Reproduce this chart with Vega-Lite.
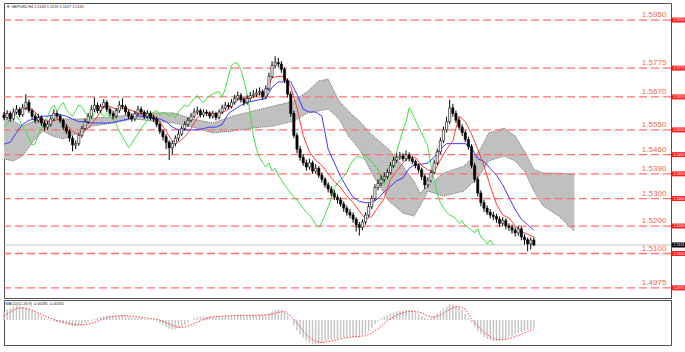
{
"$schema":"https://vega.github.io/schema/vega-lite/v6.json",
"padding":{"left":1,"top":2,"right":0,"bottom":0},
"background":"white",
"spacing":0,
"config":{"view":{"stroke":"#505050","strokeWidth":1},"scale":{"continuousPadding":0},"font":"Liberation Sans","axis":{"labelFont":"Liberation Sans","labelColor":"#333","domain":false,"tickColor":"#666","tickSize":2,"labelFontSize":3.6,"labelPadding":1,"gridColor":"#c4c4c4","gridDash":[1,2],"gridWidth":1}},
"datasets":{
"candles":[
{"i":0,"o":1.5605,"h":1.5615,"l":1.5585,"c":1.5595},{"i":2,"o":1.5595,"h":1.5622,"l":1.5588,"c":1.5610},{"i":4,"o":1.5610,"h":1.5618,"l":1.5580,"c":1.5590},{"i":6,"o":1.5590,"h":1.5628,"l":1.5584,"c":1.5615},{"i":8,"o":1.5615,"h":1.5640,"l":1.5606,"c":1.5625},{"i":10,"o":1.5625,"h":1.5632,"l":1.5596,"c":1.5605},{"i":12,"o":1.5605,"h":1.5645,"l":1.5598,"c":1.5630},{"i":14,"o":1.5630,"h":1.5680,"l":1.5622,"c":1.5650},{"i":16,"o":1.5650,"h":1.5660,"l":1.5612,"c":1.5620},{"i":18,"o":1.5620,"h":1.5628,"l":1.5590,"c":1.5600},
{"i":20,"o":1.5600,"h":1.5610,"l":1.5574,"c":1.5585},{"i":22,"o":1.5585,"h":1.5608,"l":1.5576,"c":1.5595},{"i":24,"o":1.5595,"h":1.5602,"l":1.5565,"c":1.5575},{"i":26,"o":1.5575,"h":1.5584,"l":1.5548,"c":1.5560},{"i":28,"o":1.5560,"h":1.5582,"l":1.5550,"c":1.5570},{"i":30,"o":1.5570,"h":1.5600,"l":1.5562,"c":1.5590},{"i":32,"o":1.5590,"h":1.5625,"l":1.5582,"c":1.5610},{"i":34,"o":1.5610,"h":1.5620,"l":1.5590,"c":1.5600},{"i":36,"o":1.5600,"h":1.5608,"l":1.5575,"c":1.5585},{"i":38,"o":1.5585,"h":1.5592,"l":1.5550,"c":1.5560},
{"i":40,"o":1.5560,"h":1.5570,"l":1.5535,"c":1.5545},{"i":42,"o":1.5545,"h":1.5552,"l":1.5508,"c":1.5520},{"i":44,"o":1.5520,"h":1.5528,"l":1.5472,"c":1.5495},{"i":46,"o":1.5495,"h":1.5512,"l":1.5480,"c":1.5500},{"i":48,"o":1.5500,"h":1.5540,"l":1.5492,"c":1.5530},{"i":50,"o":1.5530,"h":1.5565,"l":1.5522,"c":1.5555},{"i":52,"o":1.5555,"h":1.5590,"l":1.5548,"c":1.5580},{"i":54,"o":1.5580,"h":1.5612,"l":1.5572,"c":1.5600},{"i":56,"o":1.5600,"h":1.5640,"l":1.5592,"c":1.5625},{"i":58,"o":1.5625,"h":1.5668,"l":1.5615,"c":1.5640},
{"i":60,"o":1.5640,"h":1.5650,"l":1.5610,"c":1.5620},{"i":62,"o":1.5620,"h":1.5645,"l":1.5612,"c":1.5635},{"i":64,"o":1.5635,"h":1.5662,"l":1.5628,"c":1.5650},{"i":66,"o":1.5650,"h":1.5658,"l":1.5615,"c":1.5625},{"i":68,"o":1.5625,"h":1.5632,"l":1.5600,"c":1.5610},{"i":70,"o":1.5610,"h":1.5620,"l":1.5588,"c":1.5600},{"i":72,"o":1.5600,"h":1.5630,"l":1.5592,"c":1.5620},{"i":74,"o":1.5620,"h":1.5655,"l":1.5612,"c":1.5640},{"i":76,"o":1.5640,"h":1.5665,"l":1.5625,"c":1.5635},{"i":78,"o":1.5635,"h":1.5642,"l":1.5605,"c":1.5615},
{"i":80,"o":1.5615,"h":1.5624,"l":1.5590,"c":1.5600},{"i":82,"o":1.5600,"h":1.5610,"l":1.5580,"c":1.5590},{"i":84,"o":1.5590,"h":1.5620,"l":1.5582,"c":1.5610},{"i":86,"o":1.5610,"h":1.5638,"l":1.5602,"c":1.5625},{"i":88,"o":1.5625,"h":1.5635,"l":1.5605,"c":1.5615},{"i":90,"o":1.5615,"h":1.5622,"l":1.5590,"c":1.5600},{"i":92,"o":1.5600,"h":1.5622,"l":1.5592,"c":1.5610},{"i":94,"o":1.5610,"h":1.5618,"l":1.5585,"c":1.5595},{"i":96,"o":1.5595,"h":1.5605,"l":1.5578,"c":1.5590},{"i":98,"o":1.5590,"h":1.5598,"l":1.5560,"c":1.5570},
{"i":100,"o":1.5570,"h":1.5578,"l":1.5535,"c":1.5545},{"i":102,"o":1.5545,"h":1.5552,"l":1.5512,"c":1.5525},{"i":104,"o":1.5525,"h":1.5535,"l":1.5480,"c":1.5505},{"i":106,"o":1.5505,"h":1.5512,"l":1.5440,"c":1.5485},{"i":108,"o":1.5485,"h":1.5510,"l":1.5462,"c":1.5500},{"i":110,"o":1.5500,"h":1.5530,"l":1.5490,"c":1.5520},{"i":112,"o":1.5520,"h":1.5548,"l":1.5510,"c":1.5535},{"i":114,"o":1.5535,"h":1.5565,"l":1.5528,"c":1.5555},{"i":116,"o":1.5555,"h":1.5582,"l":1.5548,"c":1.5570},{"i":118,"o":1.5570,"h":1.5595,"l":1.5562,"c":1.5585},
{"i":120,"o":1.5585,"h":1.5612,"l":1.5578,"c":1.5600},{"i":122,"o":1.5600,"h":1.5628,"l":1.5592,"c":1.5615},{"i":124,"o":1.5615,"h":1.5635,"l":1.5605,"c":1.5620},{"i":126,"o":1.5620,"h":1.5628,"l":1.5595,"c":1.5605},{"i":128,"o":1.5605,"h":1.5625,"l":1.5596,"c":1.5615},{"i":130,"o":1.5615,"h":1.5624,"l":1.5600,"c":1.5610},{"i":132,"o":1.5610,"h":1.5618,"l":1.5590,"c":1.5600},{"i":134,"o":1.5600,"h":1.5620,"l":1.5592,"c":1.5610},{"i":136,"o":1.5610,"h":1.5616,"l":1.5585,"c":1.5595},{"i":138,"o":1.5595,"h":1.5625,"l":1.5588,"c":1.5615},
{"i":140,"o":1.5615,"h":1.5642,"l":1.5608,"c":1.5630},{"i":142,"o":1.5630,"h":1.5652,"l":1.5622,"c":1.5640},{"i":144,"o":1.5640,"h":1.5650,"l":1.5625,"c":1.5635},{"i":146,"o":1.5635,"h":1.5662,"l":1.5628,"c":1.5650},{"i":148,"o":1.5650,"h":1.5678,"l":1.5642,"c":1.5665},{"i":150,"o":1.5665,"h":1.5690,"l":1.5658,"c":1.5675},{"i":152,"o":1.5675,"h":1.5684,"l":1.5650,"c":1.5660},{"i":154,"o":1.5660,"h":1.5668,"l":1.5638,"c":1.5650},{"i":156,"o":1.5650,"h":1.5676,"l":1.5642,"c":1.5665},{"i":158,"o":1.5665,"h":1.5688,"l":1.5656,"c":1.5675},
{"i":160,"o":1.5675,"h":1.5695,"l":1.5666,"c":1.5680},{"i":162,"o":1.5680,"h":1.5700,"l":1.5670,"c":1.5685},{"i":164,"o":1.5685,"h":1.5705,"l":1.5675,"c":1.5690},{"i":166,"o":1.5690,"h":1.5698,"l":1.5660,"c":1.5670},{"i":168,"o":1.5670,"h":1.5712,"l":1.5662,"c":1.5700},{"i":170,"o":1.5700,"h":1.5758,"l":1.5692,"c":1.5745},{"i":172,"o":1.5745,"h":1.5800,"l":1.5738,"c":1.5785},{"i":174,"o":1.5785,"h":1.5818,"l":1.5775,"c":1.5795},{"i":176,"o":1.5795,"h":1.5812,"l":1.5778,"c":1.5790},{"i":178,"o":1.5790,"h":1.5800,"l":1.5758,"c":1.5770},
{"i":180,"o":1.5770,"h":1.5778,"l":1.5720,"c":1.5730},{"i":182,"o":1.5730,"h":1.5738,"l":1.5668,"c":1.5680},{"i":184,"o":1.5680,"h":1.5690,"l":1.5598,"c":1.5610},{"i":186,"o":1.5610,"h":1.5620,"l":1.5520,"c":1.5530},{"i":188,"o":1.5530,"h":1.5540,"l":1.5465,"c":1.5480},{"i":190,"o":1.5480,"h":1.5492,"l":1.5438,"c":1.5450},{"i":192,"o":1.5450,"h":1.5462,"l":1.5420,"c":1.5430},{"i":194,"o":1.5430,"h":1.5442,"l":1.5402,"c":1.5415},{"i":196,"o":1.5415,"h":1.5445,"l":1.5405,"c":1.5430},{"i":198,"o":1.5430,"h":1.5438,"l":1.5390,"c":1.5400},
{"i":200,"o":1.5400,"h":1.5425,"l":1.5392,"c":1.5410},{"i":202,"o":1.5410,"h":1.5418,"l":1.5375,"c":1.5385},{"i":204,"o":1.5385,"h":1.5395,"l":1.5358,"c":1.5370},{"i":206,"o":1.5370,"h":1.5378,"l":1.5340,"c":1.5350},{"i":208,"o":1.5350,"h":1.5360,"l":1.5322,"c":1.5335},{"i":210,"o":1.5335,"h":1.5345,"l":1.5308,"c":1.5320},{"i":212,"o":1.5320,"h":1.5330,"l":1.5295,"c":1.5305},{"i":214,"o":1.5305,"h":1.5315,"l":1.5282,"c":1.5295},{"i":216,"o":1.5295,"h":1.5305,"l":1.5270,"c":1.5280},{"i":218,"o":1.5280,"h":1.5290,"l":1.5252,"c":1.5265},
{"i":220,"o":1.5265,"h":1.5275,"l":1.5238,"c":1.5250},{"i":222,"o":1.5250,"h":1.5262,"l":1.5228,"c":1.5240},{"i":224,"o":1.5240,"h":1.5250,"l":1.5212,"c":1.5225},{"i":226,"o":1.5225,"h":1.5232,"l":1.5180,"c":1.5205},{"i":228,"o":1.5205,"h":1.5215,"l":1.5165,"c":1.5195},{"i":230,"o":1.5195,"h":1.5225,"l":1.5185,"c":1.5215},{"i":232,"o":1.5215,"h":1.5250,"l":1.5205,"c":1.5240},{"i":234,"o":1.5240,"h":1.5282,"l":1.5232,"c":1.5270},{"i":236,"o":1.5270,"h":1.5312,"l":1.5262,"c":1.5300},{"i":238,"o":1.5300,"h":1.5352,"l":1.5292,"c":1.5340},
{"i":240,"o":1.5340,"h":1.5370,"l":1.5330,"c":1.5355},{"i":242,"o":1.5355,"h":1.5385,"l":1.5345,"c":1.5370},{"i":244,"o":1.5370,"h":1.5395,"l":1.5360,"c":1.5380},{"i":246,"o":1.5380,"h":1.5408,"l":1.5372,"c":1.5395},{"i":248,"o":1.5395,"h":1.5432,"l":1.5388,"c":1.5420},{"i":250,"o":1.5420,"h":1.5452,"l":1.5412,"c":1.5440},{"i":252,"o":1.5440,"h":1.5465,"l":1.5430,"c":1.5450},{"i":254,"o":1.5450,"h":1.5470,"l":1.5440,"c":1.5455},{"i":256,"o":1.5455,"h":1.5465,"l":1.5435,"c":1.5445},{"i":258,"o":1.5445,"h":1.5475,"l":1.5436,"c":1.5460},
{"i":260,"o":1.5460,"h":1.5468,"l":1.5435,"c":1.5445},{"i":262,"o":1.5445,"h":1.5455,"l":1.5425,"c":1.5435},{"i":264,"o":1.5435,"h":1.5442,"l":1.5410,"c":1.5420},{"i":266,"o":1.5420,"h":1.5428,"l":1.5395,"c":1.5405},{"i":268,"o":1.5405,"h":1.5412,"l":1.5368,"c":1.5380},{"i":270,"o":1.5380,"h":1.5388,"l":1.5335,"c":1.5350},{"i":272,"o":1.5350,"h":1.5378,"l":1.5340,"c":1.5365},{"i":274,"o":1.5365,"h":1.5405,"l":1.5358,"c":1.5395},{"i":276,"o":1.5395,"h":1.5442,"l":1.5388,"c":1.5430},{"i":278,"o":1.5430,"h":1.5482,"l":1.5422,"c":1.5470},
{"i":280,"o":1.5470,"h":1.5522,"l":1.5462,"c":1.5510},{"i":282,"o":1.5510,"h":1.5562,"l":1.5502,"c":1.5550},{"i":284,"o":1.5550,"h":1.5598,"l":1.5540,"c":1.5580},{"i":286,"o":1.5580,"h":1.5659,"l":1.5572,"c":1.5630},{"i":288,"o":1.5630,"h":1.5645,"l":1.5598,"c":1.5610},{"i":290,"o":1.5610,"h":1.5620,"l":1.5575,"c":1.5585},{"i":292,"o":1.5585,"h":1.5595,"l":1.5550,"c":1.5560},{"i":294,"o":1.5560,"h":1.5570,"l":1.5528,"c":1.5540},{"i":296,"o":1.5540,"h":1.5548,"l":1.5505,"c":1.5515},{"i":298,"o":1.5515,"h":1.5525,"l":1.5478,"c":1.5490},
{"i":300,"o":1.5490,"h":1.5498,"l":1.5410,"c":1.5420},{"i":302,"o":1.5420,"h":1.5430,"l":1.5358,"c":1.5370},{"i":304,"o":1.5370,"h":1.5380,"l":1.5308,"c":1.5320},{"i":306,"o":1.5320,"h":1.5330,"l":1.5272,"c":1.5285},{"i":308,"o":1.5285,"h":1.5295,"l":1.5252,"c":1.5265},{"i":310,"o":1.5265,"h":1.5275,"l":1.5240,"c":1.5250},{"i":312,"o":1.5250,"h":1.5262,"l":1.5228,"c":1.5240},{"i":314,"o":1.5240,"h":1.5252,"l":1.5222,"c":1.5235},{"i":316,"o":1.5235,"h":1.5245,"l":1.5212,"c":1.5225},{"i":318,"o":1.5225,"h":1.5235,"l":1.5198,"c":1.5210},
{"i":320,"o":1.5210,"h":1.5232,"l":1.5200,"c":1.5220},{"i":322,"o":1.5220,"h":1.5228,"l":1.5188,"c":1.5200},{"i":324,"o":1.5200,"h":1.5210,"l":1.5182,"c":1.5195},{"i":326,"o":1.5195,"h":1.5205,"l":1.5172,"c":1.5185},{"i":328,"o":1.5185,"h":1.5195,"l":1.5162,"c":1.5175},{"i":330,"o":1.5175,"h":1.5202,"l":1.5165,"c":1.5190},{"i":332,"o":1.5190,"h":1.5198,"l":1.5148,"c":1.5160},{"i":334,"o":1.5160,"h":1.5170,"l":1.5132,"c":1.5150},{"i":336,"o":1.5150,"h":1.5158,"l":1.5108,"c":1.5135},{"i":338,"o":1.5135,"h":1.5158,"l":1.5115,"c":1.5149},
{"i":340,"o":1.5149,"h":1.5159,"l":1.5127,"c":1.5131}],
"chikou":[
{"i":0,"g":1.5560},{"i":2,"g":1.5570},{"i":4,"g":1.5590},{"i":6,"g":1.5610},{"i":8,"g":1.5600},{"i":10,"g":1.5585},{"i":12,"g":1.5560},{"i":14,"g":1.5545},{"i":16,"g":1.5520},{"i":18,"g":1.5495},{"i":20,"g":1.5500},{"i":22,"g":1.5530},{"i":24,"g":1.5555},{"i":26,"g":1.5580},{"i":28,"g":1.5600},{"i":30,"g":1.5625},{"i":32,"g":1.5640},{"i":34,"g":1.5620},{"i":36,"g":1.5635},{"i":38,"g":1.5650},
{"i":40,"g":1.5625},{"i":42,"g":1.5610},{"i":44,"g":1.5600},{"i":46,"g":1.5620},{"i":48,"g":1.5640},{"i":50,"g":1.5635},{"i":52,"g":1.5615},{"i":54,"g":1.5600},{"i":56,"g":1.5590},{"i":58,"g":1.5610},{"i":60,"g":1.5625},{"i":62,"g":1.5615},{"i":64,"g":1.5600},{"i":66,"g":1.5610},{"i":68,"g":1.5595},{"i":70,"g":1.5590},{"i":72,"g":1.5570},{"i":74,"g":1.5545},{"i":76,"g":1.5525},{"i":78,"g":1.5505},
{"i":80,"g":1.5485},{"i":82,"g":1.5500},{"i":84,"g":1.5520},{"i":86,"g":1.5535},{"i":88,"g":1.5555},{"i":90,"g":1.5570},{"i":92,"g":1.5585},{"i":94,"g":1.5600},{"i":96,"g":1.5615},{"i":98,"g":1.5620},{"i":100,"g":1.5605},{"i":102,"g":1.5615},{"i":104,"g":1.5610},{"i":106,"g":1.5600},{"i":108,"g":1.5610},{"i":110,"g":1.5595},{"i":112,"g":1.5615},{"i":114,"g":1.5630},{"i":116,"g":1.5640},{"i":118,"g":1.5635},
{"i":120,"g":1.5650},{"i":122,"g":1.5665},{"i":124,"g":1.5675},{"i":126,"g":1.5660},{"i":128,"g":1.5650},{"i":130,"g":1.5665},{"i":132,"g":1.5675},{"i":134,"g":1.5680},{"i":136,"g":1.5685},{"i":138,"g":1.5690},{"i":140,"g":1.5670},{"i":142,"g":1.5700},{"i":144,"g":1.5745},{"i":146,"g":1.5785},{"i":148,"g":1.5795},{"i":150,"g":1.5790},{"i":152,"g":1.5770},{"i":154,"g":1.5730},{"i":156,"g":1.5680},{"i":158,"g":1.5610},
{"i":160,"g":1.5530},{"i":162,"g":1.5480},{"i":164,"g":1.5450},{"i":166,"g":1.5430},{"i":168,"g":1.5415},{"i":170,"g":1.5430},{"i":172,"g":1.5400},{"i":174,"g":1.5410},{"i":176,"g":1.5385},{"i":178,"g":1.5370},{"i":180,"g":1.5350},{"i":182,"g":1.5335},{"i":184,"g":1.5320},{"i":186,"g":1.5305},{"i":188,"g":1.5295},{"i":190,"g":1.5280},{"i":192,"g":1.5265},{"i":194,"g":1.5250},{"i":196,"g":1.5240},{"i":198,"g":1.5225},
{"i":200,"g":1.5205},{"i":202,"g":1.5195},{"i":204,"g":1.5215},{"i":206,"g":1.5240},{"i":208,"g":1.5270},{"i":210,"g":1.5300},{"i":212,"g":1.5340},{"i":214,"g":1.5355},{"i":216,"g":1.5370},{"i":218,"g":1.5380},{"i":220,"g":1.5395},{"i":222,"g":1.5420},{"i":224,"g":1.5440},{"i":226,"g":1.5450},{"i":228,"g":1.5455},{"i":230,"g":1.5445},{"i":232,"g":1.5460},{"i":234,"g":1.5445},{"i":236,"g":1.5435},{"i":238,"g":1.5420},
{"i":240,"g":1.5405},{"i":242,"g":1.5380},{"i":244,"g":1.5350},{"i":246,"g":1.5365},{"i":248,"g":1.5395},{"i":250,"g":1.5430},{"i":252,"g":1.5470},{"i":254,"g":1.5510},{"i":256,"g":1.5550},{"i":258,"g":1.5580},{"i":260,"g":1.5630},{"i":262,"g":1.5610},{"i":264,"g":1.5585},{"i":266,"g":1.5560},{"i":268,"g":1.5540},{"i":270,"g":1.5515},{"i":272,"g":1.5490},{"i":274,"g":1.5420},{"i":276,"g":1.5370},{"i":278,"g":1.5320},
{"i":280,"g":1.5285},{"i":282,"g":1.5265},{"i":284,"g":1.5250},{"i":286,"g":1.5240},{"i":288,"g":1.5235},{"i":290,"g":1.5225},{"i":292,"g":1.5210},{"i":294,"g":1.5220},{"i":296,"g":1.5200},{"i":298,"g":1.5195},{"i":300,"g":1.5185},{"i":302,"g":1.5175},{"i":304,"g":1.5190},{"i":306,"g":1.5160},{"i":308,"g":1.5150},{"i":310,"g":1.5135},{"i":312,"g":1.5149},{"i":314,"g":1.5131}],
"tk":[
{"i":0,"t":1.5610,"k":1.5498},{"i":4,"t":1.5605,"k":1.5505},{"i":8,"t":1.5612,"k":1.5540},{"i":12,"t":1.5625,"k":1.5570},{"i":16,"t":1.5630,"k":1.5585},{"i":20,"t":1.5615,"k":1.5590},{"i":24,"t":1.5590,"k":1.5600},{"i":28,"t":1.5580,"k":1.5600},{"i":32,"t":1.5585,"k":1.5605},{"i":36,"t":1.5590,"k":1.5605},
{"i":40,"t":1.5570,"k":1.5600},{"i":44,"t":1.5545,"k":1.5590},{"i":48,"t":1.5530,"k":1.5580},{"i":52,"t":1.5545,"k":1.5580},{"i":56,"t":1.5570,"k":1.5575},{"i":60,"t":1.5600,"k":1.5575},{"i":64,"t":1.5635,"k":1.5575},{"i":68,"t":1.5635,"k":1.5575},{"i":72,"t":1.5625,"k":1.5580},{"i":76,"t":1.5630,"k":1.5585},
{"i":80,"t":1.5625,"k":1.5590},{"i":84,"t":1.5615,"k":1.5600},{"i":88,"t":1.5610,"k":1.5600},{"i":92,"t":1.5610,"k":1.5595},{"i":96,"t":1.5600,"k":1.5590},{"i":100,"t":1.5580,"k":1.5590},{"i":104,"t":1.5545,"k":1.5580},{"i":108,"t":1.5510,"k":1.5560},{"i":112,"t":1.5505,"k":1.5550},{"i":116,"t":1.5525,"k":1.5550},
{"i":120,"t":1.5555,"k":1.5550},{"i":124,"t":1.5595,"k":1.5550},{"i":128,"t":1.5612,"k":1.5555},{"i":132,"t":1.5612,"k":1.5560},{"i":136,"t":1.5608,"k":1.5560},{"i":140,"t":1.5612,"k":1.5570},{"i":144,"t":1.5625,"k":1.5610},{"i":148,"t":1.5650,"k":1.5625},{"i":152,"t":1.5665,"k":1.5640},{"i":156,"t":1.5665,"k":1.5650},
{"i":160,"t":1.5670,"k":1.5655},{"i":164,"t":1.5680,"k":1.5660},{"i":168,"t":1.5685,"k":1.5665},{"i":172,"t":1.5740,"k":1.5705},{"i":176,"t":1.5745,"k":1.5725},{"i":180,"t":1.5745,"k":1.5725},{"i":184,"t":1.5708,"k":1.5725},{"i":188,"t":1.5630,"k":1.5680},{"i":192,"t":1.5530,"k":1.5625},{"i":196,"t":1.5470,"k":1.5615},
{"i":200,"t":1.5440,"k":1.5615},{"i":204,"t":1.5420,"k":1.5600},{"i":208,"t":1.5390,"k":1.5480},{"i":212,"t":1.5362,"k":1.5430},{"i":216,"t":1.5340,"k":1.5380},{"i":220,"t":1.5310,"k":1.5340},{"i":224,"t":1.5285,"k":1.5305},{"i":228,"t":1.5255,"k":1.5290},{"i":232,"t":1.5225,"k":1.5285},{"i":236,"t":1.5235,"k":1.5285},
{"i":240,"t":1.5268,"k":1.5300},{"i":244,"t":1.5300,"k":1.5325},{"i":248,"t":1.5370,"k":1.5345},{"i":252,"t":1.5400,"k":1.5365},{"i":256,"t":1.5430,"k":1.5375},{"i":260,"t":1.5450,"k":1.5410},{"i":264,"t":1.5450,"k":1.5425},{"i":268,"t":1.5420,"k":1.5425},{"i":272,"t":1.5405,"k":1.5430},{"i":276,"t":1.5395,"k":1.5450},
{"i":280,"t":1.5440,"k":1.5480},{"i":284,"t":1.5480,"k":1.5500},{"i":288,"t":1.5510,"k":1.5500},{"i":292,"t":1.5600,"k":1.5500},{"i":296,"t":1.5580,"k":1.5500},{"i":300,"t":1.5535,"k":1.5485},{"i":304,"t":1.5480,"k":1.5445},{"i":308,"t":1.5420,"k":1.5435},{"i":312,"t":1.5345,"k":1.5410},{"i":316,"t":1.5280,"k":1.5385},
{"i":320,"t":1.5240,"k":1.5350},{"i":324,"t":1.5230,"k":1.5305},{"i":328,"t":1.5200,"k":1.5260},{"i":332,"t":1.5180,"k":1.5225},{"i":336,"t":1.5170,"k":1.5205},{"i":340,"t":1.5160,"k":1.5185}],
"cloud":[
{"i":0,"a":1.5590,"b":1.5444},{"i":6,"a":1.5582,"b":1.5437},{"i":12,"a":1.5564,"b":1.5455},{"i":19,"a":1.5582,"b":1.5510},{"i":25,"a":1.5590,"b":1.5546},{"i":31,"a":1.5582,"b":1.5528},{"i":38,"a":1.5590,"b":1.5517},{"i":48,"a":1.5590,"b":1.5539},{"i":57,"a":1.5593,"b":1.5564},{"i":70,"a":1.5597,"b":1.5575},
{"i":83,"a":1.5608,"b":1.5590},{"i":96,"a":1.5612,"b":1.5582},{"i":109,"a":1.5612,"b":1.5575},{"i":121,"a":1.5590,"b":1.5560},{"i":134,"a":1.5575,"b":1.5539},{"i":147,"a":1.5601,"b":1.5546},{"i":160,"a":1.5619,"b":1.5557},{"i":173,"a":1.5637,"b":1.5564},{"i":186,"a":1.5655,"b":1.5582},{"i":195,"a":1.5692,"b":1.5612},
{"i":202,"a":1.5728,"b":1.5619},{"i":208,"a":1.5735,"b":1.5626},{"i":215,"a":1.5655,"b":1.5590},{"i":221,"a":1.5619,"b":1.5528},{"i":228,"a":1.5582,"b":1.5480},{"i":237,"a":1.5528,"b":1.5382},{"i":247,"a":1.5480,"b":1.5291},{"i":256,"a":1.5418,"b":1.5247},{"i":263,"a":1.5364,"b":1.5236},{"i":267,"a":1.5320,"b":1.5273},
{"i":272,"a":1.5346,"b":1.5327},{"i":282,"a":1.5393,"b":1.5309},{"i":295,"a":1.5418,"b":1.5327},{"i":305,"a":1.5473,"b":1.5382},{"i":311,"a":1.5539,"b":1.5437},{"i":321,"a":1.5557,"b":1.5455},{"i":328,"a":1.5528,"b":1.5437},{"i":334,"a":1.5473,"b":1.5400},{"i":340,"a":1.5407,"b":1.5327},{"i":346,"a":1.5393,"b":1.5273},
{"i":356,"a":1.5393,"b":1.5236},{"i":366,"a":1.5389,"b":1.5182}],
"macd":[
{"i":0,"m":0.0030},{"i":2,"m":0.0038},{"i":4,"m":0.0045},{"i":6,"m":0.0050},{"i":8,"m":0.0052},{"i":10,"m":0.0050},{"i":12,"m":0.0047},{"i":14,"m":0.0045},{"i":16,"m":0.0040},{"i":18,"m":0.0033},{"i":20,"m":0.0027},{"i":22,"m":0.0022},{"i":24,"m":0.0015},{"i":26,"m":0.0008},{"i":28,"m":0.0003},{"i":30,"m":-0.0002},{"i":32,"m":-0.0005},{"i":34,"m":-0.0008},{"i":36,"m":-0.0010},{"i":38,"m":-0.0013},
{"i":40,"m":-0.0016},{"i":42,"m":-0.0019},{"i":44,"m":-0.0022},{"i":46,"m":-0.0023},{"i":48,"m":-0.0021},{"i":50,"m":-0.0017},{"i":52,"m":-0.0012},{"i":54,"m":-0.0007},{"i":56,"m":-0.0002},{"i":58,"m":0.0004},{"i":60,"m":0.0008},{"i":62,"m":0.0012},{"i":64,"m":0.0015},{"i":66,"m":0.0016},{"i":68,"m":0.0016},{"i":70,"m":0.0015},{"i":72,"m":0.0015},{"i":74,"m":0.0016},{"i":76,"m":0.0017},{"i":78,"m":0.0015},
{"i":80,"m":0.0012},{"i":82,"m":0.0009},{"i":84,"m":0.0008},{"i":86,"m":0.0008},{"i":88,"m":0.0007},{"i":90,"m":0.0005},{"i":92,"m":0.0004},{"i":94,"m":0.0002},{"i":96,"m":0.0000},{"i":98,"m":-0.0005},{"i":100,"m":-0.0012},{"i":102,"m":-0.0018},{"i":104,"m":-0.0025},{"i":106,"m":-0.0032},{"i":108,"m":-0.0035},{"i":110,"m":-0.0034},{"i":112,"m":-0.0030},{"i":114,"m":-0.0024},{"i":116,"m":-0.0016},{"i":118,"m":-0.0008},
{"i":120,"m":0.0000},{"i":122,"m":0.0006},{"i":124,"m":0.0010},{"i":126,"m":0.0013},{"i":128,"m":0.0014},{"i":130,"m":0.0014},{"i":132,"m":0.0013},{"i":134,"m":0.0012},{"i":136,"m":0.0012},{"i":138,"m":0.0013},{"i":140,"m":0.0014},{"i":142,"m":0.0015},{"i":144,"m":0.0016},{"i":146,"m":0.0017},{"i":148,"m":0.0018},{"i":150,"m":0.0019},{"i":152,"m":0.0018},{"i":154,"m":0.0016},{"i":156,"m":0.0016},{"i":158,"m":0.0017},
{"i":160,"m":0.0018},{"i":162,"m":0.0018},{"i":164,"m":0.0019},{"i":166,"m":0.0018},{"i":168,"m":0.0020},{"i":170,"m":0.0025},{"i":172,"m":0.0031},{"i":174,"m":0.0036},{"i":176,"m":0.0038},{"i":178,"m":0.0036},{"i":180,"m":0.0030},{"i":182,"m":0.0018},{"i":184,"m":0.0002},{"i":186,"m":-0.0018},{"i":188,"m":-0.0038},{"i":190,"m":-0.0052},{"i":192,"m":-0.0064},{"i":194,"m":-0.0076},{"i":196,"m":-0.0084},{"i":198,"m":-0.0088},
{"i":200,"m":-0.0088},{"i":202,"m":-0.0086},{"i":204,"m":-0.0082},{"i":206,"m":-0.0078},{"i":208,"m":-0.0074},{"i":210,"m":-0.0071},{"i":212,"m":-0.0068},{"i":214,"m":-0.0066},{"i":216,"m":-0.0064},{"i":218,"m":-0.0062},{"i":220,"m":-0.0061},{"i":222,"m":-0.0060},{"i":224,"m":-0.0060},{"i":226,"m":-0.0060},{"i":228,"m":-0.0060},{"i":230,"m":-0.0056},{"i":232,"m":-0.0050},{"i":234,"m":-0.0040},{"i":236,"m":-0.0028},{"i":238,"m":-0.0015},
{"i":240,"m":-0.0004},{"i":242,"m":0.0006},{"i":244,"m":0.0013},{"i":246,"m":0.0019},{"i":248,"m":0.0024},{"i":250,"m":0.0028},{"i":252,"m":0.0031},{"i":254,"m":0.0033},{"i":256,"m":0.0034},{"i":258,"m":0.0035},{"i":260,"m":0.0034},{"i":262,"m":0.0032},{"i":264,"m":0.0028},{"i":266,"m":0.0022},{"i":268,"m":0.0015},{"i":270,"m":0.0008},{"i":272,"m":0.0005},{"i":274,"m":0.0008},{"i":276,"m":0.0015},{"i":278,"m":0.0024},
{"i":280,"m":0.0033},{"i":282,"m":0.0042},{"i":284,"m":0.0050},{"i":286,"m":0.0056},{"i":288,"m":0.0056},{"i":290,"m":0.0052},{"i":292,"m":0.0046},{"i":294,"m":0.0036},{"i":296,"m":0.0022},{"i":298,"m":0.0008},{"i":300,"m":-0.0008},{"i":302,"m":-0.0025},{"i":304,"m":-0.0040},{"i":306,"m":-0.0052},{"i":308,"m":-0.0062},{"i":310,"m":-0.0069},{"i":312,"m":-0.0074},{"i":314,"m":-0.0077},{"i":316,"m":-0.0078},{"i":318,"m":-0.0076},
{"i":320,"m":-0.0072},{"i":322,"m":-0.0068},{"i":324,"m":-0.0063},{"i":326,"m":-0.0058},{"i":328,"m":-0.0053},{"i":330,"m":-0.0049},{"i":332,"m":-0.0045},{"i":334,"m":-0.0040},{"i":336,"m":-0.0036},{"i":338,"m":-0.0032},{"i":340,"m":-0.0028}],
"sig":[
{"i":0,"s":0.0015},{"i":4,"s":0.0030},{"i":8,"s":0.0042},{"i":12,"s":0.0045},{"i":16,"s":0.0040},{"i":20,"s":0.0030},{"i":24,"s":0.0020},{"i":28,"s":0.0010},{"i":32,"s":0.0002},{"i":36,"s":-0.0005},{"i":40,"s":-0.0010},{"i":44,"s":-0.0015},{"i":48,"s":-0.0018},{"i":52,"s":-0.0017},{"i":56,"s":-0.0012},{"i":60,"s":-0.0005},{"i":64,"s":0.0005},{"i":68,"s":0.0012},{"i":72,"s":0.0015},{"i":76,"s":0.0016},
{"i":80,"s":0.0015},{"i":84,"s":0.0013},{"i":88,"s":0.0010},{"i":92,"s":0.0007},{"i":96,"s":0.0004},{"i":100,"s":0.0000},{"i":104,"s":-0.0010},{"i":108,"s":-0.0020},{"i":112,"s":-0.0027},{"i":116,"s":-0.0026},{"i":120,"s":-0.0018},{"i":124,"s":-0.0008},{"i":128,"s":0.0002},{"i":132,"s":0.0010},{"i":136,"s":0.0013},{"i":140,"s":0.0014},{"i":144,"s":0.0015},{"i":148,"s":0.0016},{"i":152,"s":0.0017},{"i":156,"s":0.0017},
{"i":160,"s":0.0017},{"i":164,"s":0.0018},{"i":168,"s":0.0018},{"i":172,"s":0.0022},{"i":176,"s":0.0028},{"i":180,"s":0.0031},{"i":184,"s":0.0015},{"i":188,"s":-0.0010},{"i":192,"s":-0.0040},{"i":196,"s":-0.0065},{"i":200,"s":-0.0078},{"i":204,"s":-0.0082},{"i":208,"s":-0.0079},{"i":212,"s":-0.0074},{"i":216,"s":-0.0068},{"i":220,"s":-0.0064},{"i":224,"s":-0.0061},{"i":228,"s":-0.0060},{"i":232,"s":-0.0057},{"i":236,"s":-0.0048},
{"i":240,"s":-0.0032},{"i":244,"s":-0.0012},{"i":248,"s":0.0005},{"i":252,"s":0.0018},{"i":256,"s":0.0027},{"i":260,"s":0.0032},{"i":264,"s":0.0032},{"i":268,"s":0.0026},{"i":272,"s":0.0015},{"i":276,"s":0.0010},{"i":280,"s":0.0018},{"i":284,"s":0.0032},{"i":288,"s":0.0045},{"i":292,"s":0.0050},{"i":296,"s":0.0040},{"i":300,"s":0.0005},{"i":304,"s":-0.0022},{"i":308,"s":-0.0045},{"i":312,"s":-0.0062},{"i":316,"s":-0.0071},
{"i":320,"s":-0.0072},{"i":324,"s":-0.0068},{"i":328,"s":-0.0060},{"i":332,"s":-0.0052},{"i":336,"s":-0.0042},{"i":340,"s":-0.0033}],
"levels":[{"p":1.5950,"lbl":"1.5950"},{"p":1.5775,"lbl":"1.5775"},{"p":1.5670,"lbl":"1.5670"},{"p":1.5550,"lbl":"1.5550"},{"p":1.5460,"lbl":"1.5460"},{"p":1.5390,"lbl":"1.5390"},{"p":1.5300,"lbl":"1.5300"},{"p":1.5200,"lbl":"1.5200"},{"p":1.5100,"lbl":"1.5100"},{"p":1.4975,"lbl":"1.4975"}],
"cur":[{"p":1.5131,"lbl":"1.5131"}],
"titles":[{"t":"▼ GBPUSD,H4  1.5149 1.5159 1.5127 1.5131"}],
"mtitle":[{"t":"MACD(12,26,9) -0.00281 -0.00332"}]
},
"vconcat":[
{"width":667,"height":295,
"layer":[
{"data":{"name":"cloud"},"mark":{"type":"area","fill":"#c0c0c0","opacity":1},
"encoding":{"x":{"field":"i","type":"quantitative","scale":{"domain":[0,428],"nice":false,"zero":false,"padding":0},"axis":{"orient":"bottom","values":[0,8,16,24,32,40,48,56,64,72,80,88,96,104,112,120,128,136,144,152,160,168,176,184,192,200,208,216,224,232,240,248,256,264,272,280,288,296,304,312,320,328,336,344,352,360,368,376,384,392,400,408,416,424],"labels":false,"ticks":false,"domain":false,"grid":true,"title":null}},
"y":{"field":"a","type":"quantitative","scale":{"domain":[1.4938,1.6012],"nice":false,"zero":false,"padding":0},"axis":{"orient":"right","values":[1.4995,1.5045,1.5095,1.5145,1.5195,1.5245,1.5295,1.5345,1.5395,1.5445,1.5495,1.5545,1.5595,1.5645,1.5695,1.5745,1.5795,1.5845,1.5895,1.5945,1.5995],"format":".4f","grid":true,"labelOverlap":false,"title":null}},
"y2":{"field":"b"}}},
{"data":{"name":"cloud"},"mark":{"type":"line","stroke":"#555","strokeWidth":0.8,"strokeDash":[1,1]},
"encoding":{"x":{"field":"i","type":"quantitative","axis":null},"y":{"field":"a","type":"quantitative","axis":null}}},
{"data":{"name":"cloud"},"mark":{"type":"line","stroke":"#555","strokeWidth":0.8,"strokeDash":[1,1]},
"encoding":{"x":{"field":"i","type":"quantitative","axis":null},"y":{"field":"b","type":"quantitative","axis":null}}},
{"data":{"name":"levels"},"mark":{"type":"rule","stroke":"#ff7272","strokeWidth":1.3,"strokeDash":[8,4]},
"encoding":{"y":{"field":"p","type":"quantitative","axis":null}}},
{"data":{"name":"cur"},"mark":{"type":"rule","stroke":"#b4b4b4","strokeWidth":0.8},
"encoding":{"y":{"field":"p","type":"quantitative","axis":null}}},
{"data":{"name":"chikou"},"mark":{"type":"line","stroke":"#3ee03e","strokeWidth":1},
"encoding":{"x":{"field":"i","type":"quantitative","axis":null},"y":{"field":"g","type":"quantitative","axis":null}}},
{"data":{"name":"tk"},"mark":{"type":"line","stroke":"#3a3aff","strokeWidth":1},
"encoding":{"x":{"field":"i","type":"quantitative","axis":null},"y":{"field":"k","type":"quantitative","axis":null}}},
{"data":{"name":"tk"},"mark":{"type":"line","stroke":"#ff3a3a","strokeWidth":1},
"encoding":{"x":{"field":"i","type":"quantitative","axis":null},"y":{"field":"t","type":"quantitative","axis":null}}},
{"data":{"name":"candles"},"mark":{"type":"rule","stroke":"#000","strokeWidth":1},
"encoding":{"x":{"field":"i","type":"quantitative","axis":null},"y":{"field":"l","type":"quantitative","axis":null},"y2":{"field":"h"}}},
{"data":{"name":"candles"},"mark":{"type":"bar","size":2.2,"stroke":"#000","strokeWidth":0.6},
"encoding":{"x":{"field":"i","type":"quantitative","axis":null},"y":{"field":"o","type":"quantitative","axis":null},"y2":{"field":"c"},
"fill":{"condition":{"test":"datum.c < datum.o","value":"#000"},"value":"#fff"}}},
{"data":{"name":"levels"},"mark":{"type":"text","align":"right","baseline":"bottom","dy":-1,"fontSize":8,"fill":"#f4683f","font":"Liberation Sans"},
"encoding":{"x":{"datum":425,"type":"quantitative","axis":null},"y":{"field":"p","type":"quantitative","axis":null},"text":{"field":"lbl"}}},
{"data":{"name":"levels"},"mark":{"type":"bar","size":5,"fill":"#ff1e1e"},
"encoding":{"x":{"datum":428.6,"type":"quantitative","axis":null},"x2":{"datum":438.5},"y":{"field":"p","type":"quantitative","axis":null}}},
{"data":{"name":"levels"},"mark":{"type":"text","align":"left","baseline":"middle","fontSize":3.6,"fill":"#fff"},
"encoding":{"x":{"datum":429.6,"type":"quantitative","axis":null},"y":{"field":"p","type":"quantitative","axis":null},"text":{"field":"lbl"}}},
{"data":{"name":"cur"},"mark":{"type":"bar","size":5,"fill":"#000"},
"encoding":{"x":{"datum":428.6,"type":"quantitative","axis":null},"x2":{"datum":438.5},"y":{"field":"p","type":"quantitative","axis":null}}},
{"data":{"name":"cur"},"mark":{"type":"text","align":"left","baseline":"middle","fontSize":3.6,"fill":"#fff"},
"encoding":{"x":{"datum":429.6,"type":"quantitative","axis":null},"y":{"field":"p","type":"quantitative","axis":null},"text":{"field":"lbl"}}},
{"data":{"name":"titles"},"mark":{"type":"text","align":"left","baseline":"middle","fontSize":3.8,"fill":"#222"},
"encoding":{"x":{"datum":1.5,"type":"quantitative","axis":null},"y":{"datum":1.5997,"type":"quantitative","axis":null},"text":{"field":"t"}}}
]},
{"width":667,"height":45,
"layer":[
{"data":{"name":"macd"},"mark":{"type":"bar","size":1.5,"fill":"#c6c6c6"},
"encoding":{"x":{"field":"i","type":"quantitative","scale":{"domain":[0,428],"nice":false,"zero":false,"padding":0},"axis":{"orient":"bottom","values":[0,8,16,24,32,40,48,56,64,72,80,88,96,104,112,120,128,136,144,152,160,168,176,184,192,200,208,216,224,232,240,248,256,264,272,280,288,296,304,312,320,328,336,344,352,360,368,376,384,392,400,408,416,424],"labelExpr":"(datum.value % 16 == 0 && datum.value <= 336) ? ['14 Jul 2015','17 Jul 12:00','22 Jul 04:00','24 Jul 20:00','29 Jul 12:00','3 Aug 04:00','5 Aug 20:00','10 Aug 12:00','13 Aug 04:00','17 Aug 20:00','20 Aug 12:00','25 Aug 04:00','27 Aug 20:00','1 Sep 12:00','4 Sep 04:00','8 Sep 20:00','11 Sep 12:00','16 Sep 04:00','18 Sep 20:00','23 Sep 12:00','28 Sep 04:00','30 Sep 20:00'][round(datum.value/16)] : ''","labelAlign":"left","labelOverlap":false,"labelPadding":2,"labelFontSize":3.6,"tickSize":2,"grid":true,"title":null}},
"y":{"field":"m","type":"quantitative","scale":{"domain":[-0.0091,0.0073],"nice":false,"zero":false,"padding":0},"axis":{"orient":"right","values":[0.00629,0,-0.00865],"labelExpr":"datum.value == 0 ? '0.00' : format(datum.value, '.5f')","grid":false,"labelOverlap":false,"title":null}}}},
{"data":{"name":"sig"},"mark":{"type":"line","stroke":"#ff3030","strokeWidth":1,"strokeDash":[1.5,1.5]},
"encoding":{"x":{"field":"i","type":"quantitative","axis":null},"y":{"field":"s","type":"quantitative","axis":null}}},
{"data":{"name":"mtitle"},"mark":{"type":"text","align":"left","baseline":"middle","fontSize":3.8,"fill":"#222"},
"encoding":{"x":{"datum":1,"type":"quantitative","axis":null},"y":{"datum":0.0058,"type":"quantitative","axis":null},"text":{"field":"t"}}}
]}
]
}
